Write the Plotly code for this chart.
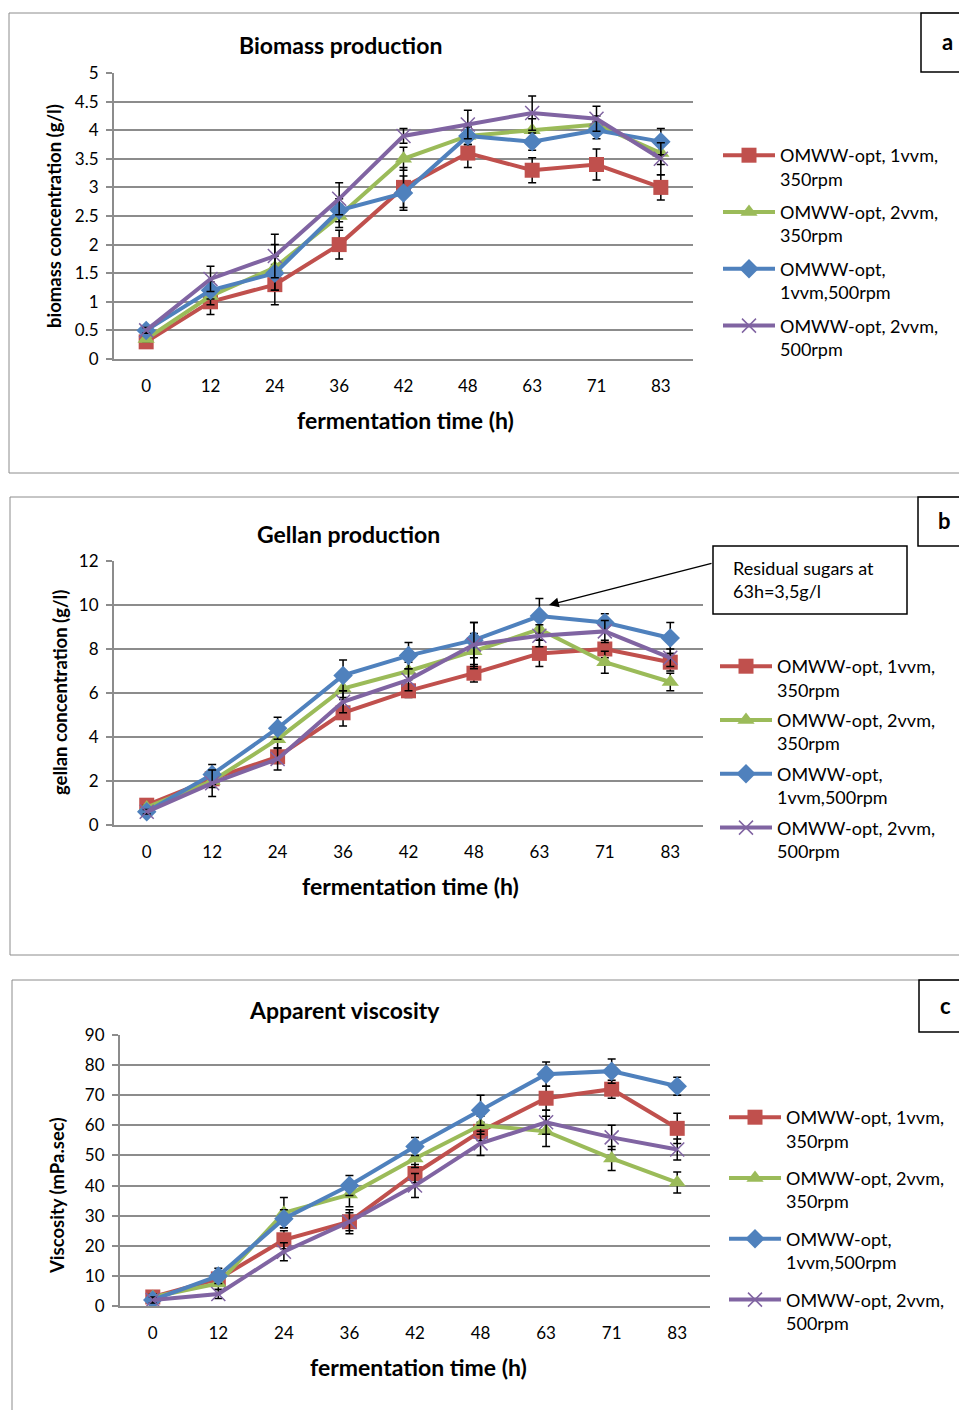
import plotly.graph_objects as go

W, H = 959, 1410

time_labels = ["0", "12", "24", "36", "42", "48", "63", "71", "83"]
series_names = ["OMWW-opt, 1vvm,<br>350rpm", "OMWW-opt, 2vvm,<br>350rpm",
                "OMWW-opt,<br>1vvm,500rpm", "OMWW-opt, 2vvm,<br>500rpm"]

# Panel a: biomass (g/l)
biomass_1vvm350 = [0.3, 1.0, 1.3, 2.0, 3.0, 3.6, 3.3, 3.4, 3.0]
biomass_2vvm350 = [0.35, 1.1, 1.6, 2.5, 3.5, 3.9, 4.0, 4.1, 3.6]
biomass_1vvm500 = [0.5, 1.2, 1.5, 2.6, 2.9, 3.9, 3.8, 4.0, 3.8]
biomass_2vvm500 = [0.5, 1.4, 1.8, 2.8, 3.9, 4.1, 4.3, 4.2, 3.5]
biomass_err_1vvm350 = [0.05, 0.22, 0.35, 0.25, 0.35, 0.25, 0.22, 0.27, 0.22]
biomass_err_2vvm350 = [0.05, 0.15, 0.4, 0.2, 0.2, 0.15, 0.2, 0.15, 0.2]
biomass_err_1vvm500 = [0.05, 0.15, 0.3, 0.2, 0.3, 0.15, 0.15, 0.15, 0.23]
biomass_err_2vvm500 = [0.05, 0.22, 0.38, 0.28, 0.13, 0.25, 0.3, 0.22, 0.28]

# Panel b: gellan (g/l)
gellan_1vvm350 = [0.9, 2.1, 3.1, 5.1, 6.1, 6.9, 7.8, 8.0, 7.4]
gellan_2vvm350 = [0.8, 2.0, 3.9, 6.2, 7.0, 7.9, 8.9, 7.4, 6.5]
gellan_1vvm500 = [0.6, 2.3, 4.4, 6.8, 7.7, 8.4, 9.5, 9.2, 8.5]
gellan_2vvm500 = [0.6, 1.9, 3.0, 5.6, 6.6, 8.2, 8.6, 8.8, 7.6]
gellan_err_1vvm350 = [0.1, 0.3, 0.3, 0.6, 0.3, 0.4, 0.6, 0.4, 0.4]
gellan_err_2vvm350 = [0.1, 0.3, 0.4, 0.4, 0.4, 0.8, 0.5, 0.5, 0.4]
gellan_err_1vvm500 = [0.1, 0.45, 0.5, 0.7, 0.6, 0.8, 0.8, 0.4, 0.7]
gellan_err_2vvm500 = [0.1, 0.6, 0.5, 0.5, 0.5, 1.0, 0.5, 0.5, 0.4]

# Panel c: viscosity (mPa.sec)
visc_1vvm350 = [3, 9, 22, 28, 44, 58, 69, 72, 59]
visc_2vvm350 = [3, 7.5, 31, 37, 49, 60, 58, 49, 41]
visc_1vvm500 = [2, 10, 29, 40, 53, 65, 77, 78, 73]
visc_2vvm500 = [2, 4, 18, 28, 40, 54, 61, 56, 52]
visc_err_1vvm350 = [1, 2, 3, 4, 3, 3, 4, 3, 5]
visc_err_2vvm350 = [1, 2, 5, 4, 3, 3, 5, 4, 3.5]
visc_err_1vvm500 = [1, 2.5, 3, 3.3, 3, 5, 4, 4, 3]
visc_err_2vvm500 = [1, 1.5, 3, 3, 4, 4, 4, 4, 3.5]

colors = ["#C0504D", "#9BBB59", "#4F81BD", "#8064A2"]
symbols = ["square", "triangle-up", "diamond", "x-thin"]
msizes = [15, 15, 15, 14]

FONT = "Lato"
GRID = "#8c8c8c"


def px(x):
    return x / W


def py(y):
    return 1 - y / H


fig = go.Figure()

panels = [
    dict(vals=[biomass_1vvm350, biomass_2vvm350, biomass_1vvm500, biomass_2vvm500],
         errs=[biomass_err_1vvm350, biomass_err_2vvm350, biomass_err_1vvm500, biomass_err_2vvm500],
         xd=(114, 693), yd=(73, 359), yr=(0, 5), dt=0.5, legend="legend",
         leg=(718, 137), gap=7),
    dict(vals=[gellan_1vvm350, gellan_2vvm350, gellan_1vvm500, gellan_2vvm500],
         errs=[gellan_err_1vvm350, gellan_err_2vvm350, gellan_err_1vvm500, gellan_err_2vvm500],
         xd=(114, 703), yd=(561, 825), yr=(0, 12), dt=2, legend="legend2",
         leg=(715, 648), gap=4),
    dict(vals=[visc_1vvm350, visc_2vvm350, visc_1vvm500, visc_2vvm500],
         errs=[visc_err_1vvm350, visc_err_2vvm350, visc_err_1vvm500, visc_err_2vvm500],
         xd=(120, 710), yd=(1035, 1306), yr=(0, 90), dt=10, legend="legend3",
         leg=(724, 1099), gap=11),
]

layout = {}
for i, p in enumerate(panels):
    sfx = "" if i == 0 else str(i + 1)
    for j in range(4):
        fig.add_trace(go.Scatter(
            x=time_labels, y=p["vals"][j],
            xaxis="x" + sfx, yaxis="y" + sfx,
            mode="lines+markers", name=series_names[j],
            legend=p["legend"], legendgroup=p["legend"] + str(j),
            line=dict(color=colors[j], width=4),
            marker=dict(symbol=symbols[j], size=msizes[j], color=colors[j],
                        line=dict(color=colors[j], width=1.5 if j == 3 else 0)),
            error_y=dict(type="data", array=p["errs"][j], color="black",
                         thickness=1.5, width=4),
        ))
    layout["xaxis" + sfx] = dict(
        domain=[px(p["xd"][0]), px(p["xd"][1])], anchor="y" + sfx,
        type="category", range=[-0.5, 8.5], showgrid=False, automargin=False,
        showline=True, linecolor=GRID, linewidth=2, ticks="",
        ticklabelstandoff=11, tickfont=dict(family=FONT, size=17, color="black"),
        zeroline=False,
    )
    layout["yaxis" + sfx] = dict(
        domain=[py(p["yd"][1]), py(p["yd"][0])], anchor="x" + sfx,
        range=list(p["yr"]), dtick=p["dt"], showgrid=True, gridcolor=GRID,
        gridwidth=1.5, showline=True, linecolor=GRID, linewidth=2, automargin=False,
        ticks="outside", ticklen=6, tickcolor=GRID, tickwidth=1.5,
        ticklabelstandoff=4,
        tickfont=dict(family=FONT, size=17, color="black"), zeroline=False,
    )
    layout[p["legend"]] = dict(
        x=px(p["leg"][0]), y=py(p["leg"][1]), xanchor="left", yanchor="top",
        font=dict(family=FONT, size=18, color="black"), valign="top",
        tracegroupgap=p["gap"], itemwidth=52, bgcolor="rgba(0,0,0,0)",
    )

shapes = []
annotations = []


def label(text, x, y, size, angle=0, xanchor="center", align="center"):
    annotations.append(dict(text=text, xref="paper", yref="paper",
                            x=px(x), y=py(y), xanchor=xanchor, yanchor="middle",
                            align=align, showarrow=False, textangle=angle,
                            font=dict(family=FONT, size=size, color="black")))


# panel frames
for (x0, y0, y1) in [(9, 13, 473), (10, 497, 955), (12, 980, 1412)]:
    shapes.append(dict(type="rect", xref="paper", yref="paper",
                       x0=px(x0), x1=px(968), y0=py(y1), y1=py(y0),
                       line=dict(color="#8c8c8c", width=1)))
# label boxes
for (lab, x0, y0, y1) in [("a", 921, 13, 72), ("b", 918, 497, 546), ("c", 919, 980, 1032)]:
    shapes.append(dict(type="rect", xref="paper", yref="paper",
                       x0=px(x0), x1=px(975), y0=py(y1), y1=py(y0),
                       line=dict(color="black", width=1.5)))
    label("<b>%s</b>" % lab, x0 + 26, (y0 + y1) / 2 - 1, 22)

# titles
for (t, x, y) in [("Biomass production", 340, 45), ("Gellan production", 348, 534),
                  ("Apparent viscosity", 344, 1010)]:
    label("<b>%s</b>" % t, x, y, 23)
# x titles
for (x, y) in [(405, 420), (410, 886), (418, 1367)]:
    label("<b>fermentation time (h)</b>", x, y, 23)
# y titles
for (t, x, y) in [("biomass concentration (g/l)", 54, 216),
                  ("gellan concentration (g/l)", 60, 693),
                  ("Viscosity (mPa.sec)", 57, 1196)]:
    label("<b>%s</b>" % t, x, y, 18.5, angle=-90)

# residual sugar note
shapes.append(dict(type="rect", xref="paper", yref="paper",
                   x0=px(713), x1=px(907), y0=py(614), y1=py(546),
                   line=dict(color="black", width=1.5)))
label("Residual sugars at<br>63h=3,5g/l", 731, 580, 18, xanchor="left", align="left")
annotations.append(dict(text="", xref="paper", yref="paper", x=px(549), y=py(605),
                        ax=713 - 549, ay=563 - 605, showarrow=True, arrowhead=2,
                        arrowsize=1.3, arrowwidth=1.5, arrowcolor="black"))

fig.update_layout(
    width=W, height=H, margin=dict(l=0, r=0, t=0, b=0, autoexpand=False),
    paper_bgcolor="white", plot_bgcolor="white",
    font=dict(family=FONT, color="black"),
    shapes=shapes, annotations=annotations, **layout,
)

fig.write_html("out.html")
